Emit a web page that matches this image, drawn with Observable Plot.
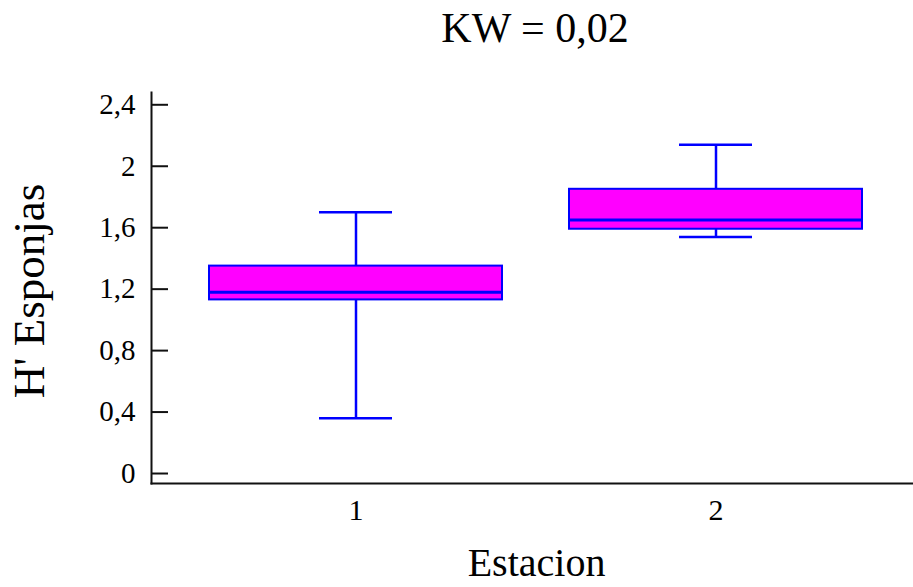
<!DOCTYPE html>
<html><head><meta charset="utf-8">
<script src="https://cdn.jsdelivr.net/npm/d3@7"></script>
<script src="https://cdn.jsdelivr.net/npm/@observablehq/plot@0.6"></script>
<style>
html,body{margin:0;padding:0;background:#fff;}
#title{height:60px;line-height:56px;font-family:"Liberation Serif",serif;font-size:42px;text-align:center;padding-left:157px;box-sizing:border-box;width:913px;color:#000;white-space:pre;}
#chart svg{display:block;}
</style></head><body>
<div id="title">KW = 0,02</div>
<div id="chart"></div>
<script>
const estaciones = ["1", "2"];
const whiskerLow = [0.36, 1.54];
const q1 = [1.13, 1.59];
const medians = [1.18, 1.65];
const q3 = [1.35, 1.85];
const whiskerHigh = [1.70, 2.14];
const yTicks = [0, 0.4, 0.8, 1.2, 1.6, 2, 2.4];
const titleText = "KW = 0,02";
const xLabel = "Estacion";
const yLabel = "H' Esponjas";

const rows = estaciones.map((e, i) => ({
  est: e, lo: whiskerLow[i], q1: q1[i], med: medians[i], q3: q3[i], hi: whiskerHigh[i]
}));
const fmt = d => String(d).replace(".", ",");
const BLUE = "#0000ff", MAG = "#ff00ff", INK = "#111";

const chart = Plot.plot({
  width: 913, height: 527,
  marginLeft: 151, marginRight: 0, marginTop: 32, marginBottom: 104,
  style: {fontFamily: '"Liberation Serif", serif', fontSize: "30px", color: "#000", background: "#fff"},
  x: {type: "band", domain: estaciones, paddingInner: 0.186, paddingOuter: 0.151, align: 0.53},
  y: {domain: [-0.065, 2.48]},
  marks: [
    Plot.axisX({tickSize: 0, tickPadding: 15, label: null, fontSize: 30, fill: "#000"}),
    Plot.axisY({ticks: yTicks, tickSize: 0, tickPadding: 16, tickFormat: fmt, label: null, fontSize: 29, fill: "#000"}),
    Plot.tickY(yTicks, {y: d => d, insetRight: 745, stroke: INK, strokeWidth: 2}),
    Plot.frame({anchor: "left", stroke: INK, strokeWidth: 2}),
    Plot.frame({anchor: "bottom", stroke: INK, strokeWidth: 2}),
    Plot.ruleX(rows, {x: "est", y1: "lo", y2: "q1", stroke: BLUE, strokeWidth: 2.5}),
    Plot.ruleX(rows, {x: "est", y1: "q3", y2: "hi", stroke: BLUE, strokeWidth: 2.5}),
    Plot.tickY(rows, {x: "est", y: "lo", insetLeft: 110, insetRight: 110, stroke: BLUE, strokeWidth: 2.5}),
    Plot.tickY(rows, {x: "est", y: "hi", insetLeft: 110, insetRight: 110, stroke: BLUE, strokeWidth: 2.5}),
    Plot.barY(rows, {x: "est", y1: "q1", y2: "q3", fill: MAG, stroke: BLUE, strokeWidth: 2}),
    Plot.tickY(rows, {x: "est", y: "med", stroke: BLUE, strokeWidth: 3}),
    Plot.text([yLabel], {frameAnchor: "left", textAnchor: "middle", lineAnchor: "middle", rotate: -90, dx: -122, dy: 3, fontSize: 45, fill: "#000"}),
    Plot.text([xLabel], {frameAnchor: "bottom", textAnchor: "middle", lineAnchor: "middle", dx: 4, dy: 80, fontSize: 40, fill: "#000"})
  ]
});
document.getElementById("title").textContent = titleText;
document.getElementById("chart").appendChild(chart);
</script>
</body></html>
